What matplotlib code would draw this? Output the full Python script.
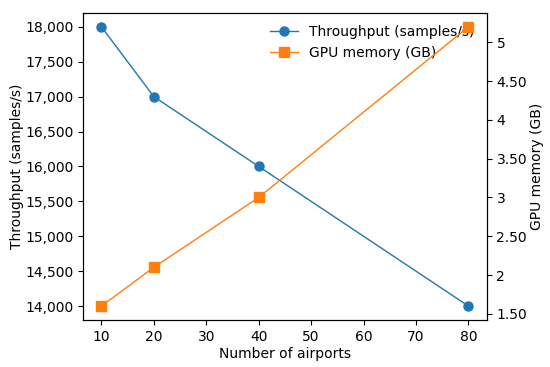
import matplotlib
matplotlib.use("Agg")
import matplotlib.pyplot as plt
from matplotlib.ticker import FuncFormatter

airports = [10, 20, 40, 80]
throughput = [18000, 17000, 16000, 14000]
gpu_mem = [1.6, 2.1, 3.0, 5.2]


def gb_fmt(v, pos):
    if abs(v - round(v)) < 1e-9:
        return str(int(round(v)))
    return f"{v:.2f}"


fig, ax1 = plt.subplots(figsize=(5.5, 3.67), dpi=100)
ax2 = ax1.twinx()

l1, = ax1.plot(airports, throughput, marker="o", markersize=6.5, color="#1f77b4", linewidth=1, label="Throughput (samples/s)")
l2, = ax2.plot(airports, gpu_mem, marker="s", markersize=6.5, color="#ff7f0e", linewidth=1, label="GPU memory (GB)")

ax1.set_xlabel("Number of airports", labelpad=2)
ax1.set_ylabel("Throughput (samples/s)", labelpad=1)
ax2.set_ylabel("GPU memory (GB)", labelpad=2)

ax1.yaxis.set_major_formatter(FuncFormatter(lambda v, p: f"{v:,.0f}"))
ax2.yaxis.set_major_formatter(FuncFormatter(gb_fmt))

ax1.legend(handles=[l1, l2], loc="upper right", frameon=False)

fig.subplots_adjust(left=0.151, right=0.885, top=0.965, bottom=0.128)
fig.savefig("out.png")
